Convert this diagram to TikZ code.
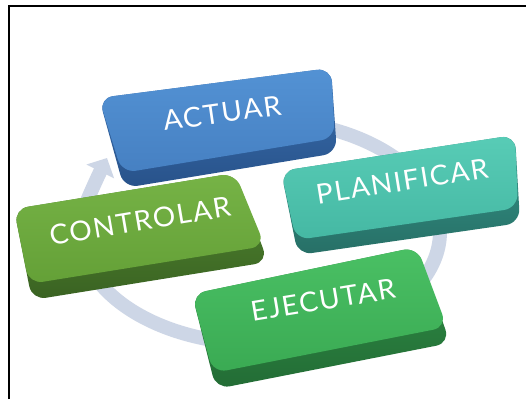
\documentclass[tikz,border=0pt]{standalone}
\usepackage{fontspec}
\setmainfont{Lato}[LetterSpace=6]
\usetikzlibrary{arrows.meta}
\definecolor{ringc}{HTML}{CDD6E6}
\definecolor{actT1}{HTML}{5392D4}\definecolor{actT2}{HTML}{4680C2}
\definecolor{actF1}{HTML}{3A70B0}\definecolor{actF2}{HTML}{28528A}
\definecolor{plaT1}{HTML}{58CCB6}\definecolor{plaT2}{HTML}{45B8A3}
\definecolor{plaF1}{HTML}{34978A}\definecolor{plaF2}{HTML}{276F66}
\definecolor{conT1}{HTML}{76B346}\definecolor{conT2}{HTML}{64A037}
\definecolor{conF1}{HTML}{528A31}\definecolor{conF2}{HTML}{3A6222}
\definecolor{ejeT1}{HTML}{4AC064}\definecolor{ejeT2}{HTML}{3AAA53}
\definecolor{ejeF1}{HTML}{309148}\definecolor{ejeF2}{HTML}{236C35}
\tikzset{
  keyshape/.style={rounded corners=14pt},
  keylabel/.style={font=\fontsize{27.5}{28}\selectfont, text=white, inner sep=0pt, xscale=1.02},
}
\begin{document}
\begin{tikzpicture}[x=1pt,y=-1pt]
\useasboundingbox (0,0) rectangle (526,399);
\fill[white] (0,0) rectangle (526,399);
% frame
\draw[line width=2pt] (9,399) -- (9,5.5) -- (526,5.5);
% cycle arrow
\draw[ringc, line width=14pt, -{Triangle[width=30pt,length=15pt]}]
  plot[domain=120:-195, samples=140, smooth] ({260+180*cos(\x)},{232-112*sin(\x)})
  .. controls (92.3,188.3) and (99.8,172.4) .. (107,158);
% ACTUAR
\path[keyshape, top color=actF1, bottom color=actF2] (99,98) -- (331,68) -- (337,153) -- (124,188) -- cycle;
\path[keyshape, top color=actT1, bottom color=actT2] (99,98) -- (331,68) -- (335,138) -- (122,173) -- cycle;
\node[keylabel, rotate=8] (act) at (222,113) {ACTUAR};
% PLANIFICAR
\path[keyshape, top color=plaF1, bottom color=plaF2] (281,171) -- (515,135) -- (520,223) -- (298,255) -- cycle;
\path[keyshape, top color=plaT1, bottom color=plaT2] (281,171) -- (515,135) -- (518,208) -- (296,240) -- cycle;
\node[keylabel, rotate=9] (pla) at (402,181) {PLANIFICAR};
% CONTROLAR
\path[keyshape, top color=conF1, bottom color=conF2] (14,209) -- (235,173) -- (268,262) -- (32,300) -- cycle;
\path[keyshape, top color=conT1, bottom color=conT2] (14,209) -- (235,173) -- (265,246) -- (29,284) -- cycle;
\node[keylabel, rotate=9.5] (con) at (140,221) {CONTROLAR};
% EJECUTAR
\path[keyshape, top color=ejeF1, bottom color=ejeF2] (192,294) -- (417,247) -- (450,343) -- (216,389) -- cycle;
\path[keyshape, top color=ejeT1, bottom color=ejeT2] (192,294) -- (417,247) -- (447,327) -- (213,373) -- cycle;
\node[keylabel, rotate=9.5] (eje) at (323,300) {EJECUTAR};
\end{tikzpicture}
\end{document}
